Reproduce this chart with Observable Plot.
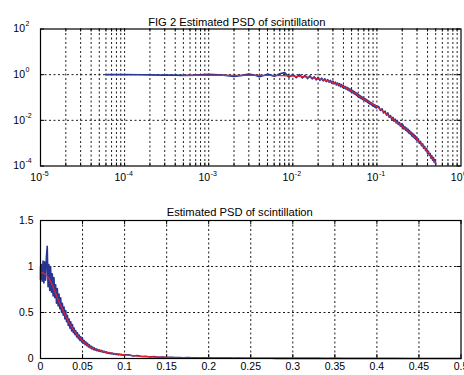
<!DOCTYPE html>
<html><head><meta charset="utf-8">
<script src="https://cdn.jsdelivr.net/npm/d3@7"></script>
<script src="https://cdn.jsdelivr.net/npm/@observablehq/plot@0.6"></script>
<style>
html,body{margin:0;padding:0;background:#fff;}
#chart{width:464px;height:375px;overflow:hidden;}
#chart svg{display:block;}
</style></head><body><div id="chart"></div>
<script>
const topTitle = "FIG 2 Estimated PSD of scintillation";
const bottomTitle = "Estimated PSD of scintillation";
const logXTicks = [1e-5, 1e-4, 1e-3, 1e-2, 1e-1, 1];
const logXExp = ["-5", "-4", "-3", "-2", "-1", "0"];
const logYTicks = [1e-4, 1e-2, 1, 1e2];
const logYExp = ["-4", "-2", "0", "2"];
const linXTicks = [0, 0.05, 0.1, 0.15, 0.2, 0.25, 0.3, 0.35, 0.4, 0.45, 0.5];
const linXLabels = ["0", "0.05", "0.1", "0.15", "0.2", "0.25", "0.3", "0.35", "0.4", "0.45", "0.5"];
const linYTicks = [0, 0.5, 1, 1.5];
const linYLabels = ["0", "0.5", "1", "1.5"];

// fitted (red) PSD
const fitFreq = [0, 0.0005, 0.001, 0.002, 0.003, 0.004, 0.005, 0.0075, 0.01, 0.0125, 0.015, 0.0175, 0.02, 0.0225, 0.025, 0.0275, 0.03, 0.035, 0.04, 0.045, 0.05, 0.055, 0.06, 0.065, 0.07, 0.075, 0.08, 0.09, 0.1, 0.12, 0.14, 0.16, 0.18, 0.2, 0.22, 0.24, 0.26, 0.28, 0.3, 0.32, 0.34, 0.36, 0.38, 0.4, 0.42, 0.44, 0.46, 0.48, 0.5];
const fitPsd = [0.93, 0.93, 0.93, 0.93, 0.93, 0.925, 0.92, 0.90, 0.87, 0.83, 0.78, 0.72, 0.66, 0.61, 0.56, 0.51, 0.46, 0.37, 0.30, 0.24, 0.19, 0.153, 0.12, 0.10, 0.085, 0.074, 0.064, 0.05, 0.039, 0.024, 0.0155, 0.0105, 0.0074, 0.0055, 0.0042, 0.0032, 0.00245, 0.0019, 0.00148, 0.00115, 0.00089, 0.00069, 0.00054, 0.00042, 0.00033, 0.00026, 0.00021, 0.00017, 0.000138];

// estimated (blue) PSD
const estFreq = [0, 0.00006, 0.00008, 0.0001, 0.00015, 0.0002, 0.0003, 0.0004, 0.0005, 0.0007,
  0.001, 0.0015, 0.002, 0.0025, 0.003, 0.0035, 0.004, 0.0045, 0.005, 0.0055, 0.006, 0.0065, 0.007, 0.008, 0.009,
  0.010, 0.011, 0.012, 0.013, 0.014, 0.015, 0.016, 0.017, 0.018, 0.019,
  0.020, 0.021, 0.022, 0.023, 0.024, 0.025, 0.026, 0.027, 0.028, 0.029,
  0.030, 0.031, 0.032, 0.033, 0.034, 0.035, 0.036, 0.037, 0.038, 0.039,
  0.040, 0.041, 0.042, 0.043, 0.044, 0.045, 0.046, 0.047, 0.048, 0.049,
  0.050, 0.051, 0.052, 0.053, 0.054, 0.055, 0.056, 0.057, 0.058, 0.059,
  0.060, 0.061, 0.062, 0.063, 0.064, 0.065, 0.066, 0.067, 0.068, 0.069,
  0.070, 0.071, 0.072, 0.073, 0.074, 0.075, 0.076, 0.077, 0.078, 0.079,
  0.080, 0.081, 0.082, 0.083, 0.084, 0.085, 0.086, 0.087, 0.088, 0.089,
  0.090, 0.091, 0.092, 0.093, 0.094, 0.095, 0.096, 0.097, 0.098, 0.099, 0.100,
  0.105, 0.11, 0.115, 0.12, 0.125, 0.13, 0.135, 0.14, 0.145, 0.15, 0.155, 0.16, 0.165, 0.17, 0.175, 0.18, 0.185, 0.19, 0.195, 0.2,
  0.205, 0.21, 0.215, 0.22, 0.225, 0.23, 0.235, 0.24, 0.245, 0.25, 0.255, 0.26, 0.265, 0.27, 0.275, 0.28, 0.285, 0.29, 0.295, 0.3,
  0.31, 0.32, 0.33, 0.34, 0.35, 0.36, 0.37, 0.38, 0.39, 0.40, 0.41, 0.42, 0.43, 0.44, 0.45, 0.46, 0.47, 0.48, 0.49, 0.5];
const estPsd = [0.86, 1.0, 1.0, 1.0, 0.99, 0.98, 0.96, 0.95, 0.94, 0.95,
  1.02, 0.95, 0.84, 0.93, 1.06, 0.97, 0.82, 0.92, 1.05, 0.95, 0.85, 0.94, 1.10, 1.22, 0.78,
  1.02, 0.74, 1.00, 0.72, 0.92, 0.68, 0.88, 0.66, 0.80, 0.60,
  0.76, 0.57, 0.70, 0.54, 0.66, 0.50, 0.60, 0.47, 0.56, 0.43,
  0.52, 0.40, 0.47, 0.36, 0.43, 0.33, 0.40, 0.30, 0.37, 0.28,
  0.33, 0.26, 0.30, 0.235, 0.28, 0.215, 0.255, 0.195, 0.235, 0.18,
  0.215, 0.165, 0.195, 0.15, 0.18, 0.14, 0.165, 0.125, 0.15, 0.115,
  0.135, 0.105, 0.125, 0.097, 0.115, 0.09, 0.106, 0.085, 0.099, 0.08,
  0.093, 0.076, 0.088, 0.071, 0.083, 0.067, 0.078, 0.063, 0.073, 0.058,
  0.068, 0.055, 0.065, 0.052, 0.06, 0.05, 0.057, 0.047, 0.054, 0.044,
  0.051, 0.042, 0.049, 0.04, 0.047, 0.038, 0.045, 0.036, 0.043, 0.035, 0.041,
  0.040, 0.027, 0.032, 0.021, 0.025, 0.017, 0.021, 0.0138, 0.0162, 0.0112, 0.0135, 0.0092, 0.0112, 0.0077, 0.0096, 0.0066, 0.0080, 0.0056, 0.0070, 0.0049,
  0.0062, 0.0042, 0.0052, 0.0037, 0.0046, 0.0032, 0.0040, 0.0028, 0.0035, 0.0025, 0.0030, 0.0021, 0.0027, 0.0019, 0.0024, 0.00165, 0.0021, 0.00148, 0.00182, 0.0013,
  0.00152, 0.00099, 0.00118, 0.00077, 0.00092, 0.00060, 0.00072, 0.00047, 0.00058, 0.00036, 0.00044, 0.00029, 0.00035, 0.00022, 0.00028, 0.00018, 0.00023, 0.00015, 0.000185, 0.00012];

const fit = fitFreq.map((f, i) => ({f, p: fitPsd[i]}));
const est = estFreq.map((f, i) => ({f, p: estPsd[i]}));

const BLUE = "#283593";
const RED = "#e8202e";
const FONT = "'Liberation Sans', Arial, Helvetica, sans-serif";
const W = 464;
const ML = 40, MR = 3.5;
const FW = W - ML - MR;

// log grid positions
const logGrid = [-5, -4, -3, -2, -1].flatMap(e => [1, 2, 3, 4, 5, 6, 7, 8, 9].map(k => k * Math.pow(10, e))).filter(v => v > 1.5e-5);
const grid = {stroke: "#000", strokeDasharray: "2,2.5", strokeWidth: 0.9};

// ---------- upper panel: log-log ----------
const H1 = 190, MT1 = 28.5, MB1 = 24.5;
const FH1 = H1 - MT1 - MB1;
const upperPlot = Plot.plot({
  width: W, height: H1, marginTop: MT1, marginBottom: MB1, marginLeft: ML, marginRight: MR,
  style: {fontFamily: FONT, fontSize: "10px", color: "#000", background: "#fff", overflow: "visible"},
  x: {type: "log", domain: [1e-5, 1], axis: null},
  y: {type: "log", domain: [1e-4, 1e2], axis: null},
  marks: [
    Plot.ruleX(logGrid, {x: d => d, ...grid}),
    Plot.ruleY([1e-2, 1], {y: d => d, ...grid}),
    Plot.tickX(logGrid, {x: d => d, insetTop: FH1 - 3, stroke: "#000"}),
    Plot.tickX(logGrid, {x: d => d, insetBottom: FH1 - 3, stroke: "#000"}),
    Plot.tickY(logYTicks, {y: d => d, insetRight: FW - 4, stroke: "#000"}),
    Plot.tickY(logYTicks, {y: d => d, insetLeft: FW - 4, stroke: "#000"}),
    Plot.line(est.filter(d => d.f > 0), {x: "f", y: "p", stroke: BLUE, strokeWidth: 1.7}),
    Plot.line(fit.filter(d => d.f >= 0.0005), {x: "f", y: "p", stroke: RED, strokeWidth: 1.2}),
    Plot.frame({stroke: "#000", strokeWidth: 1.2}),
    Plot.text(logXTicks, {x: d => d, frameAnchor: "bottom", text: () => "10", textAnchor: "end", dx: 1.5, dy: 15, fontSize: 10.5}),
    Plot.text(logXTicks, {x: d => d, frameAnchor: "bottom", text: (d, i) => logXExp[i], textAnchor: "start", dx: 2, dy: 9.5, fontSize: 7}),
    Plot.text(logYTicks, {y: d => d, frameAnchor: "left", text: () => "10", textAnchor: "end", dx: -15.5, fontSize: 10.5}),
    Plot.text(logYTicks, {y: d => d, frameAnchor: "left", text: (d, i) => logYExp[i], textAnchor: "start", dx: -15, dy: -5, fontSize: 7}),
    Plot.text([topTitle], {frameAnchor: "top", text: d => d, dx: -14, dy: -11, fontSize: 11.2})
  ]
});

// ---------- lower panel: linear ----------
const H2 = 185, MT2 = 30, MB2 = 17;
const FH2 = H2 - MT2 - MB2;
const lowerPlot = Plot.plot({
  width: W, height: H2, marginTop: MT2, marginBottom: MB2, marginLeft: ML, marginRight: MR,
  style: {fontFamily: FONT, fontSize: "10px", color: "#000", background: "#fff", overflow: "visible"},
  x: {domain: [0, 0.5], axis: null},
  y: {domain: [0, 1.5], axis: null},
  marks: [
    Plot.ruleX(linXTicks.slice(1, -1), {x: d => d, ...grid}),
    Plot.ruleY(linYTicks.slice(1, -1), {y: d => d, ...grid}),
    Plot.tickX(linXTicks, {x: d => d, insetTop: FH2 - 4, stroke: "#000"}),
    Plot.tickX(linXTicks, {x: d => d, insetBottom: FH2 - 4, stroke: "#000"}),
    Plot.tickY(linYTicks, {y: d => d, insetRight: FW - 4, stroke: "#000"}),
    Plot.tickY(linYTicks, {y: d => d, insetLeft: FW - 4, stroke: "#000"}),
    Plot.line(est, {x: "f", y: "p", stroke: BLUE, strokeWidth: 1.6}),
    Plot.line(fit, {x: "f", y: "p", stroke: RED, strokeWidth: 1.2}),
    Plot.frame({stroke: "#000", strokeWidth: 1.2}),
    Plot.text(linXTicks, {x: d => d, frameAnchor: "bottom", text: (d, i) => linXLabels[i], dy: 11, fontSize: 10.5}),
    Plot.text(linYTicks, {y: d => d, frameAnchor: "left", text: (d, i) => linYLabels[i], textAnchor: "end", dx: -7, fontSize: 10.5}),
    Plot.text([bottomTitle], {frameAnchor: "top", text: d => d, dx: -11, dy: -12, fontSize: 11.2})
  ]
});

document.getElementById("chart").append(upperPlot, lowerPlot);
</script>
</body></html>
